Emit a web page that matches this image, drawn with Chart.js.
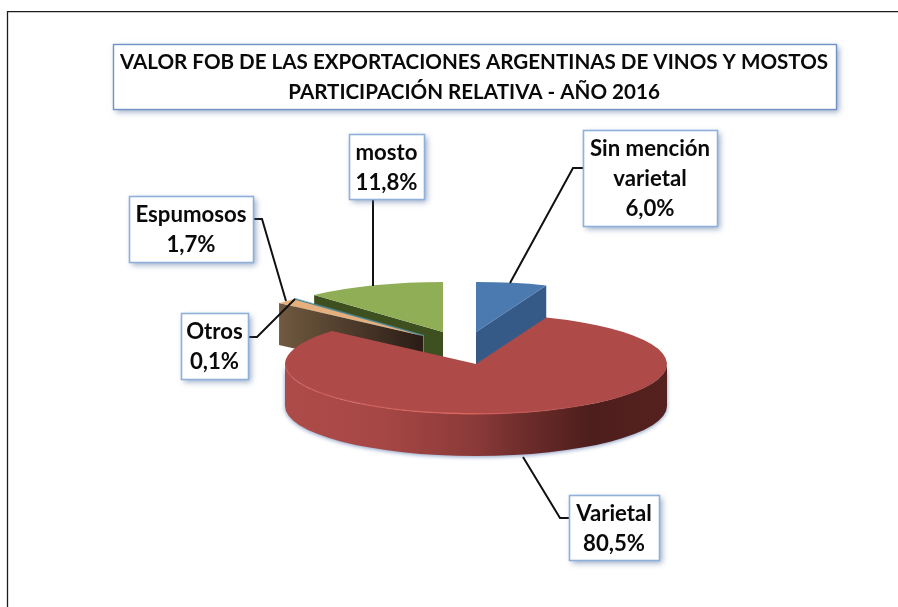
<!DOCTYPE html>
<html>
<head>
<meta charset="utf-8">
<style>html,body{margin:0;padding:0;background:#fff}#wrap{width:898px;height:607px}canvas{display:block}</style>
<script src="https://cdn.jsdelivr.net/npm/chart.js@4/dist/chart.umd.min.js"></script>
</head>
<body>
<div id="wrap"><canvas id="c" width="898" height="607"></canvas></div>
<script>
const titleLines = ['VALOR FOB DE LAS EXPORTACIONES ARGENTINAS DE VINOS Y MOSTOS', 'PARTICIPACIÓN RELATIVA - AÑO 2016'];
const categories = [['Sin mención', 'varietal'], ['Varietal'], ['Espumosos'], ['Otros'], ['mosto']];
const values = [6.0, 80.5, 1.7, 0.1, 11.8];
const topColors = ['#4a7ab0', '#ae4a47', '#e6b07e', '#5b95a6', '#8fae55'];

// 3D look: vertical squash of the pie, per-slice displacement and side depth
const squash = 0.262;
const sliceShift = [[2, -29], [2, 3], [-51, -25], [-50, -26], [-31, -29]];
const sliceDepth = [34, 42, 42, 42, 42];
const faceEdge = ['end', null, 'start', 'start', 'start'];
const faceColors = [['#365a87', '#365a87'], null, ['#70593f', '#2a1c16'], ['#4f8a9a', '#4f8a9a'], ['#3f5020', '#3f5020']];
const paintOrder = [4, 3, 2, 0, 1];

// Callout boxes [x, y, w, h] and leader lines
const boxes = [[583, 130, 134, 96], [569, 495, 90, 65], [129, 196, 124, 66], [181, 313, 67, 66], [349, 134, 75, 65]];
const leaders = [
  [[583, 168], [573, 168], [510, 283]],
  [[569, 518], [560, 518], [523, 457]],
  [[253, 219], [262, 219], [286, 301]],
  [[248, 337], [257, 337], [295, 299]],
  [[373, 199], [373, 286]]
];
const titleBox = [113, 44, 723, 65];

function drawSide(ctx, arc, i) {
  const [sx, sy] = sliceShift[i];
  const d = sliceDepth[i];
  const r = arc.outerRadius;
  const cx = arc.x + sx, cy = arc.y + sy;
  if (faceEdge[i]) {
    const a = faceEdge[i] === 'start' ? arc.startAngle : arc.endAngle;
    const ex = cx + r * Math.cos(a), ey = cy + squash * r * Math.sin(a);
    const g = ctx.createLinearGradient(Math.min(ex, cx), 0, Math.max(ex, cx), 0);
    g.addColorStop(0, faceColors[i][0]);
    g.addColorStop(1, faceColors[i][1]);
    ctx.beginPath();
    ctx.moveTo(cx, cy);
    ctx.lineTo(ex, ey);
    ctx.lineTo(ex, ey + d);
    ctx.lineTo(cx, cy + d);
    ctx.closePath();
    ctx.fillStyle = g;
    ctx.fill();
  } else {
    const ry = squash * r;
    ctx.save();
    ctx.shadowColor = 'rgba(80,110,165,0.7)';
    ctx.shadowBlur = 4;
    ctx.shadowOffsetX = 0;
    ctx.shadowOffsetY = 1;
    const g = ctx.createLinearGradient(cx - r, 0, cx + r, 0);
    g.addColorStop(0, '#ad4b48');
    g.addColorStop(0.25, '#a74745');
    g.addColorStop(0.5, '#8a3a39');
    g.addColorStop(0.62, '#6f2d2b');
    g.addColorStop(0.8, '#4d1e1c');
    g.addColorStop(1, '#56211f');
    ctx.beginPath();
    ctx.ellipse(cx, cy + d, r, ry, 0, 0, Math.PI);
    ctx.lineTo(cx - r, cy);
    ctx.ellipse(cx, cy, r, ry, 0, Math.PI, 0, true);
    ctx.closePath();
    ctx.fillStyle = g;
    ctx.fill();
    ctx.restore();
  }
}

function drawTop(ctx, arc, i) {
  const [sx, sy] = sliceShift[i];
  ctx.save();
  ctx.translate(arc.x + sx, arc.y + sy);
  ctx.scale(1, squash);
  ctx.translate(-arc.x, -arc.y);
  arc.draw(ctx);
  ctx.restore();
  if (!faceEdge[i]) {
    const r = arc.outerRadius, ry = squash * r, cx = arc.x + sx, cy = arc.y + sy;
    const g = ctx.createLinearGradient(cx - r, 0, cx + r, 0);
    g.addColorStop(0, 'rgba(205,95,90,0.5)');
    g.addColorStop(0.45, 'rgba(228,105,100,0.9)');
    g.addColorStop(0.75, 'rgba(190,80,76,0.45)');
    g.addColorStop(1, 'rgba(150,60,58,0.2)');
    ctx.beginPath();
    ctx.ellipse(cx, cy, r - 0.5, ry - 0.3, 0, 0.05, Math.PI - 0.02);
    ctx.strokeStyle = g;
    ctx.lineWidth = 1.5;
    ctx.stroke();
  }
}

function drawBox(ctx, b, border, lw) {
  ctx.save();
  ctx.shadowColor = 'rgba(70,100,150,0.55)';
  ctx.shadowBlur = 6;
  ctx.shadowOffsetX = 3;
  ctx.shadowOffsetY = 3;
  ctx.fillStyle = '#fff';
  ctx.fillRect(b[0], b[1], b[2], b[3]);
  ctx.restore();
  ctx.strokeStyle = border;
  ctx.lineWidth = lw;
  ctx.strokeRect(b[0] + 0.5, b[1] + 0.5, b[2], b[3]);
}

const pie3d = {
  id: 'pie3d',
  beforeDraw(chart) {
    const ctx = chart.ctx;
    ctx.save();
    ctx.strokeStyle = '#1c1c1c';
    ctx.lineWidth = 1.3;
    ctx.beginPath();
    ctx.moveTo(7.5, 607);
    ctx.lineTo(7.5, 11.7);
    ctx.lineTo(898, 11.7);
    ctx.stroke();
    drawBox(ctx, titleBox, '#6f93c4', 1.4);
    ctx.restore();
  },
  beforeDatasetsDraw(chart) {
    const ctx = chart.ctx;
    const arcs = chart.getDatasetMeta(0).data;
    paintOrder.forEach(i => {
      drawSide(ctx, arcs[i], i);
      drawTop(ctx, arcs[i], i);
    });
    return false;
  },
  afterDraw(chart) {
    const ctx = chart.ctx;
    ctx.save();
    ctx.strokeStyle = '#111';
    ctx.lineWidth = 2;
    leaders.forEach(l => {
      ctx.beginPath();
      l.forEach((p, k) => k ? ctx.lineTo(p[0], p[1]) : ctx.moveTo(p[0], p[1]));
      ctx.stroke();
    });
    values.forEach((v, i) => {
      const b = boxes[i];
      drawBox(ctx, b, '#8fb0da', 1.6);
      const lines = [...categories[i], v.toFixed(1).replace('.', ',') + '%'];
      ctx.fillStyle = '#0a0a0a';
      ctx.font = '700 22.2px Lato';
      ctx.textAlign = 'center';
      ctx.textBaseline = 'alphabetic';
      lines.forEach((t, k) => {
        ctx.fillText(t, b[0] + b[2] / 2, b[1] + b[3] / 2 + (k - (lines.length - 1) / 2) * 30 + 8);
      });
    });
    ctx.restore();
  }
};

new Chart(document.getElementById('c'), {
  type: 'pie',
  data: {
    labels: categories,
    datasets: [{ data: values, backgroundColor: topColors, borderWidth: 0 }]
  },
  options: {
    responsive: false,
    animation: false,
    layout: { padding: { left: 50, right: 0, top: 0, bottom: 55 } },
    plugins: {
      legend: { display: false },
      tooltip: { enabled: false },
      title: {
        display: true,
        text: titleLines,
        color: '#0a0a0a',
        font: { family: 'Lato', size: 20.6, weight: '700', lineHeight: 1.4563 },
        padding: { top: 47, bottom: 63 }
      }
    }
  },
  plugins: [pie3d]
});
</script>
</body>
</html>
